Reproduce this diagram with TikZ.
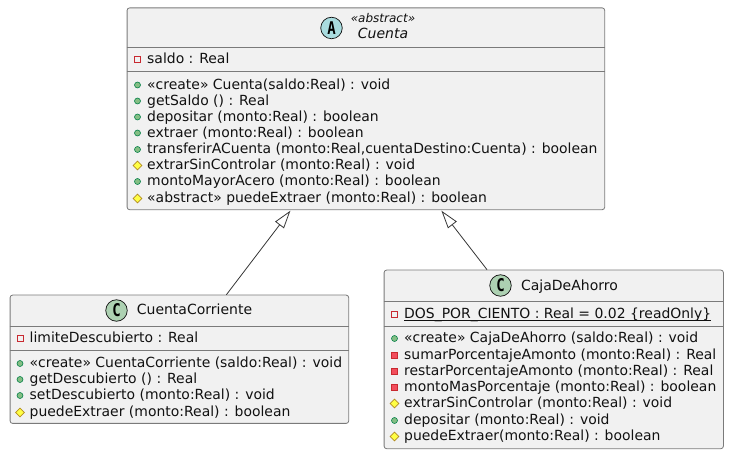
\documentclass[tikz,border=0pt]{standalone}
\usepackage{fontspec}
\setmainfont{DejaVu Sans}
\newfontfamily\iconfont{DejaVu Sans Mono}
\usetikzlibrary{arrows.meta,shapes.geometric}
\definecolor{boxfill}{HTML}{F1F1F1}
\definecolor{boxline}{HTML}{7A7A7A}
\definecolor{txt}{HTML}{111111}
\definecolor{pubfill}{HTML}{84BE84}
\definecolor{publine}{HTML}{038048}
\definecolor{privline}{HTML}{C82930}
\definecolor{privfill}{HTML}{F24D5C}
\definecolor{protline}{HTML}{B38D22}
\definecolor{protfill}{HTML}{FFFF44}
\definecolor{absicon}{HTML}{A9DCDF}
\definecolor{clsicon}{HTML}{ADD1B2}
\newcount\memc
\newcommand{\mem}[4]{%
  \global\advance\memc by 1
  \node[#3] (ic\the\memc) at (#1-9.5,#2-4.5) {};
  \node[member] (m\the\memc) at (#1,#2) {#4};
}
\newcommand{\iconletter}[1]{\scalebox{0.8}[1]{#1}}
\tikzset{
  classbox/.style={draw=boxline,fill=boxfill,line width=0.8pt,rounded corners=2.5pt,inner sep=0pt,anchor=north west},
  sep/.style={draw=boxline,line width=0.8pt},
  member/.style={anchor=base west,inner sep=0pt,text=txt,font=\fontsize{13.95}{16}\selectfont},
  title/.style={anchor=base,inner sep=0pt,text=txt,font=\fontsize{14}{16}\selectfont},
  stereo/.style={anchor=base,inner sep=0pt,text=txt,font=\fontsize{12}{14}\selectfont\itshape},
  classicon/.style={circle,draw=txt,line width=0.7pt,minimum size=21.5pt,inner sep=0pt,font=\iconfont\bfseries\fontsize{17.5}{17.5}\selectfont,text=black},
  pubm/.style={circle,draw=publine,fill=pubfill,line width=0.6pt,minimum size=6pt,inner sep=0pt},
  privf/.style={rectangle,draw=privline,fill=none,line width=0.8pt,minimum size=6pt,inner sep=0pt},
  privm/.style={rectangle,draw=privline,fill=privfill,line width=0.6pt,minimum size=6pt,inner sep=0pt},
  protm/.style={diamond,draw=protline,fill=protfill,line width=0.6pt,minimum size=9pt,inner sep=0pt},
  inherit/.style={draw=txt!85!white,line width=0.8pt,-{Triangle[open,fill=white,length=18pt,width=11pt]}}
}
\begin{document}
\begin{tikzpicture}[x=1pt,y=-1pt]
\useasboundingbox (0,0) rectangle (729,454);
% boxes
\node[classbox,minimum width=477.6pt,minimum height=201.8pt] (cuenta) at (126.7,7.5) {};
\node[classbox,minimum width=338.6pt,minimum height=128.3pt] (corriente) at (9.7,294.7) {};
\node[classbox,minimum width=339.3pt,minimum height=178.6pt] (ahorro) at (383.7,269.7) {};
% connectors
\draw[inherit] ([xshift=47pt]corriente.north) -- ([xshift=-75.5pt,yshift=-0.6pt]cuenta.south);
\draw[inherit] ([xshift=-66.7pt]ahorro.north) -- ([xshift=75.5pt,yshift=-0.6pt]cuenta.south);
% separators
\draw[sep] (cuenta.north west |- 0,47.3) -- (cuenta.north east |- 0,47.3);
\draw[sep] (cuenta.north west |- 0,71.3) -- (cuenta.north east |- 0,71.3);
\draw[sep] (corriente.north west |- 0,326.7) -- (corriente.north east |- 0,326.7);
\draw[sep] (corriente.north west |- 0,350.3) -- (corriente.north east |- 0,350.3);
\draw[sep] (ahorro.north west |- 0,301.3) -- (ahorro.north east |- 0,301.3);
\draw[sep] (ahorro.north west |- 0,326.3) -- (ahorro.north east |- 0,326.3);
% headers
\node[classicon,fill=absicon] (icA) at (331.5,28) {\iconletter{A}};
\node[stereo] (st) at (383,23) {«abstract»};
\node[title,font=\fontsize{14}{16}\selectfont\itshape] (tA) at (383,39) {Cuenta};
\node[classicon,fill=clsicon] (icC) at (116.5,310.5) {\iconletter{C}};
\node[title] (tC) at (194.5,315) {CuentaCorriente};
\node[classicon,fill=clsicon] (icD) at (500.5,285.5) {\iconletter{C}};
\node[title] (tD) at (569.5,291) {CajaDeAhorro};
% Cuenta
\mem{147}{64}{privf}{saldo : Real}
\mem{147}{89.5}{pubm}{«create» Cuenta(saldo:Real) : void}
\mem{147}{105.5}{pubm}{getSaldo () : Real}
\mem{147}{121.5}{pubm}{depositar (monto:Real) : boolean}
\mem{147}{137.5}{pubm}{extraer (monto:Real) : boolean}
\mem{147}{154}{pubm}{transferirACuenta (monto:Real,cuentaDestino:Cuenta) : boolean}
\mem{147}{170}{protm}{extrarSinControlar (monto:Real) : void}
\mem{147}{186}{pubm}{montoMayorAcero (monto:Real) : boolean}
\mem{147}{203}{protm}{«abstract» puedeExtraer (monto:Real) : boolean}
% CuentaCorriente
\mem{29.5}{343}{privf}{limiteDescubierto : Real}
\mem{29.5}{368}{pubm}{«create» CuentaCorriente (saldo:Real) : void}
\mem{29.5}{384}{pubm}{getDescubierto () : Real}
\mem{29.5}{400}{pubm}{setDescubierto (monto:Real) : void}
\mem{29.5}{417}{protm}{puedeExtraer (monto:Real) : boolean}
% CajaDeAhorro
\mem{404}{319}{privf}{DOS\_POR\_CIENTO : Real = 0.02 \{readOnly\}}
\draw[line width=0.8pt,txt] ([yshift=-1.7pt]m\the\memc.base west) -- ([yshift=-1.7pt]m\the\memc.base east);
\mem{404}{343}{pubm}{«create» CajaDeAhorro (saldo:Real) : void}
\mem{404}{360}{privm}{sumarPorcentajeAmonto (monto:Real) : Real}
\mem{404}{376}{privm}{restarPorcentajeAmonto (monto:Real) : Real}
\mem{404}{392}{privm}{montoMasPorcentaje (monto:Real) : boolean}
\mem{404}{408}{protm}{extrarSinControlar (monto:Real) : void}
\mem{404}{425}{pubm}{depositar (monto:Real) : void}
\mem{404}{441}{protm}{puedeExtraer(monto:Real) : boolean}
\end{tikzpicture}
\end{document}
